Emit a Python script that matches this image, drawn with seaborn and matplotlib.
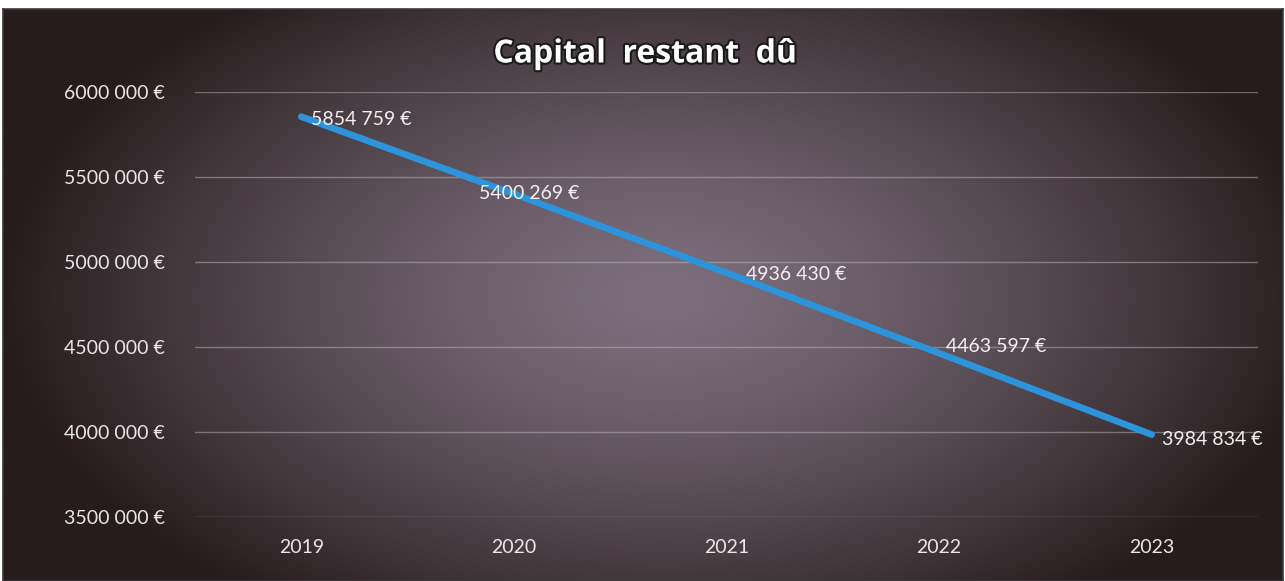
import numpy as np
import matplotlib
matplotlib.use("Agg")
import matplotlib.pyplot as plt
import matplotlib.patheffects as pe
import seaborn as sns

years = ["2019", "2020", "2021", "2022", "2023"]
capital = [5854759, 5400269, 4936430, 4463597, 3984834]
y_ticks = [3500000, 4000000, 4500000, 5000000, 5500000, 6000000]

# label offsets in pixels (dx, dy), labels were dragged by hand in the original
label_offsets = [(10, -3), (-35, 0), (20, -2), (7, 7), (10, -5)]


def euro(v):
    return f"{v // 1000} {v % 1000:03d} €"


sns.set_theme(style="dark")
plt.rcParams["font.family"] = ["Lato", "DejaVu Sans"]

W, H = 1285, 581
fig = plt.figure(figsize=(W / 100, H / 100), dpi=100)
fig.patch.set_facecolor("white")

# background: dark radial gradient, lighter mauve in the middle
bg = fig.add_axes([3 / W, 0, (W - 5) / W, (H - 9) / H])
yy, xx = np.mgrid[0:300, 0:640]
cx, cy = 330, 150
r = np.sqrt(((xx - cx) / 330.0) ** 2 + ((yy - cy) / 200.0) ** 2)
t = np.clip(r, 0, 1) ** 1.4
center = np.array([124, 110, 124]) / 255
edge = np.array([38, 28, 28]) / 255
img = center[None, None, :] * (1 - t[..., None]) + edge[None, None, :] * t[..., None]
bg.imshow(img, aspect="auto", extent=[0, 1, 0, 1])
bg.set_xticks([])
bg.set_yticks([])
for s in bg.spines.values():
    s.set_color("#3a3a3a")
    s.set_linewidth(1.2)

ax = fig.add_axes([195 / W, (H - 517) / H, (1258 - 195) / W, (517 - 92) / H])
ax.patch.set_alpha(0)

x = np.arange(len(years))
sns.lineplot(x=x, y=capital, ax=ax, color="#2d93da", linewidth=4.8,
             solid_capstyle="round")

ax.set_xlim(-0.5, len(years) - 0.5)
ax.set_ylim(3500000, 6000000)
ax.set_xticks(x)
ax.set_xticklabels(years)
ax.set_yticks(y_ticks)
ax.set_yticklabels([euro(v) for v in y_ticks])
ax.tick_params(axis="both", colors="#e8e6e6", labelsize=14, length=0)
ax.tick_params(axis="y", pad=22)
ax.tick_params(axis="x", pad=16)
ax.grid(True, axis="y", color="#c8c2c6", linewidth=1.0, alpha=0.45)
ax.grid(False, axis="x")
ax.set_axisbelow(True)
for s in ax.spines.values():
    s.set_visible(False)

for i, v in enumerate(capital):
    dx, dy = label_offsets[i]
    ax.annotate(euro(v), (x[i], v), xytext=(dx * 0.72, dy * 0.72),
                textcoords="offset points", ha="left", va="center",
                color="#f2f0f0", fontsize=14)

fig.text(0.5 + 3 / W, (H - 54) / H, "Capital  restant  dû", ha="center",
         va="center", color="white", fontsize=23, fontweight="bold",
         family=["Open Sans", "DejaVu Sans"],
         path_effects=[pe.withStroke(linewidth=3, foreground="#1a1a1a")])

fig.savefig("out.png", dpi=100, facecolor=fig.get_facecolor())
